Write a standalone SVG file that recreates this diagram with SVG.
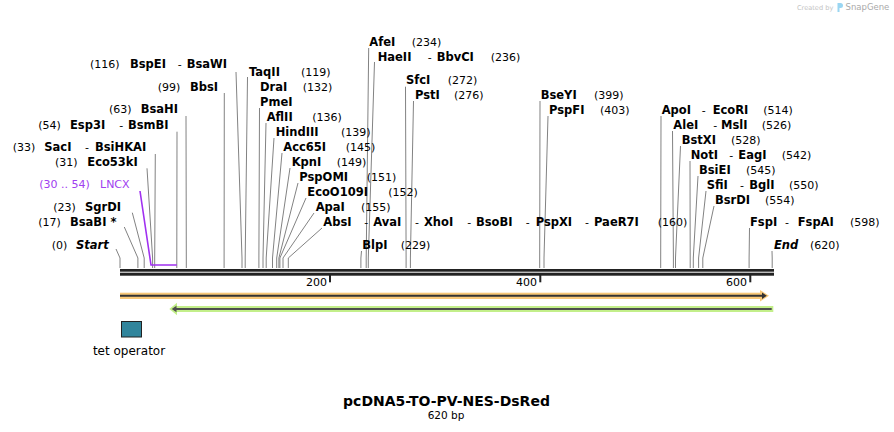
<svg xmlns="http://www.w3.org/2000/svg" width="894" height="432" viewBox="0 0 894 432">
<style>
text{font-family:"DejaVu Sans","Verdana",sans-serif;fill:#000}
.e{font-size:11.5px;font-weight:bold}
.n{font-size:11px}
.i{font-size:11.5px;font-weight:bold;font-style:italic}
.p{fill:#a040f0}
.c{fill:none;stroke:#828282;stroke-width:1}
.pl{fill:none;stroke:#a030f0;stroke-width:1.6}
.t{font-size:11px}
</style>
<rect width="894" height="432" fill="#fff"/>
<g id="watermark">
<text x="797" y="9.8" font-size="6.6" style="fill:#c4c4c4">Created by</text>
<path d="M837.5,3 h3 a2.5,2.5 0 0 1 0,5 h-1 v4 h-2 z" fill="#9ad6f2"/>
<text x="845.5" y="10.3" font-size="8.5" style="fill:#aaa">SnapGene</text>
</g>
<g id="connectors">
<polyline class="c" points="236,72 242,258 242,268"/>
<polyline class="c" points="224.3,93 224.1,258 224.1,268"/>
<polyline class="c" points="186,116 186.3,258 186.3,268"/>
<polyline class="c" points="177,131.7 176.8,258 176.8,268"/>
<polyline class="c" points="155.3,154 154.7,258 154.7,268"/>
<polyline class="c" points="147,168.3 152.6,258 152.6,268"/>
<polyline class="pl" points="140,191 151,265 176.8,265"/>
<polyline class="c" points="132.3,212.7 144.2,258 144.2,268"/>
<polyline class="c" points="124.3,227 137.9,258 137.9,268"/>
<polyline class="c" points="116,249 120,258 120,268"/>
<polyline class="c" points="368.7,48 366.2,258 366.2,268"/>
<polyline class="c" points="374.5,62 368.3,258 368.3,268"/>
<polyline class="c" points="247.5,77 245.2,258 245.2,268"/>
<polyline class="c" points="259.5,108 258.9,258 258.9,268"/>
<polyline class="c" points="266,123 263,258 263,268"/>
<polyline class="c" points="274,138 266.2,258 266.2,268"/>
<polyline class="c" points="282,153 272.5,258 272.5,268"/>
<polyline class="c" points="290,168 276.7,258 276.7,268"/>
<polyline class="c" points="298,183 278.9,258 278.9,268"/>
<polyline class="c" points="306,198 279.9,258 279.9,268"/>
<polyline class="c" points="314,213 283,258 283,268"/>
<polyline class="c" points="322,228 288.3,258 288.3,268"/>
<polyline class="c" points="361.5,251 360.9,258 360.9,268"/>
<polyline class="c" points="405.5,86.7 406.1,258 406.1,268"/>
<polyline class="c" points="413.5,101 410.4,258 410.4,268"/>
<polyline class="c" points="540,101 539.7,258 539.7,268"/>
<polyline class="c" points="548,116 544,258 544,268"/>
<polyline class="c" points="661,116 660.7,258 660.7,268"/>
<polyline class="c" points="672.5,131 673.4,258 673.4,268"/>
<polyline class="c" points="680.5,146 675.5,258 675.5,268"/>
<polyline class="c" points="690,161 690.2,258 690.2,268"/>
<polyline class="c" points="698,176 693.3,258 693.3,268"/>
<polyline class="c" points="706,191 698.6,258 698.6,268"/>
<polyline class="c" points="714,206 702.8,258 702.8,268"/>
<polyline class="c" points="749.5,228 749.1,258 749.1,268"/>
<polyline class="c" points="772,251 772.2,258 772.2,268"/>
</g>
<g id="sequence">
<rect x="120" y="269" width="654" height="2.7" fill="#222"/>
<rect x="120" y="272.7" width="654" height="3" fill="#222"/>
<rect x="329" y="275" width="2" height="7.3" fill="#222"/>
<rect x="539.3" y="275" width="2" height="7.3" fill="#222"/>
<rect x="749.3" y="275" width="2" height="7.3" fill="#222"/>
<text class="t" x="327" y="286" text-anchor="end">200</text>
<text class="t" x="537" y="286" text-anchor="end">400</text>
<text class="t" x="747" y="286" text-anchor="end">600</text>
</g>
<g id="feature-orange">
<rect x="120" y="292.7" width="641" height="6.3" fill="#f8c878"/>
<polygon points="760,290 769,295.8 760,301.6" fill="#f8c878"/>
<line x1="120" y1="295.8" x2="763" y2="295.8" stroke="#333" stroke-width="2"/>
<polygon points="762,292.6 766.8,295.8 762,299" fill="#333"/>
</g>
<g id="feature-green">
<rect x="176" y="306" width="597.3" height="6" fill="#c3ef8a"/>
<polygon points="177,302.7 169.3,309 177,315.3" fill="#c3ef8a"/>
<line x1="175" y1="309" x2="771.7" y2="309" stroke="#4d4d4d" stroke-width="2"/>
<polygon points="171.7,309 176.5,305.8 176.5,312.2" fill="#4d4d4d"/>
</g>
<g id="tet-operator">
<rect x="121.5" y="321.5" width="20" height="15.5" fill="#31859c" stroke="#222" stroke-width="1"/>
<text x="129" y="355" font-size="12" text-anchor="middle">tet operator</text>
</g>
<g id="title">
<text x="446.5" y="406" font-size="14" font-weight="bold" text-anchor="middle">pcDNA5-TO-PV-NES-DsRed</text>
<text x="446" y="418.5" font-size="10.5" text-anchor="middle">620 bp</text>
</g>
<g id="lbl-BspEI"><text class="n" x="90" y="68">(116)</text><text class="e" x="130" y="68">BspEI</text><text class="n" x="177.7" y="68">-</text><text class="e" x="186.7" y="68">BsaWI</text></g>
<g id="lbl-BbsI"><text class="n" x="157.7" y="90.5">(99)</text><text class="e" x="190" y="90.5">BbsI</text></g>
<g id="lbl-BsaHI"><text class="n" x="109" y="113">(63)</text><text class="e" x="140.7" y="113">BsaHI</text></g>
<g id="lbl-Esp3I"><text class="n" x="38.3" y="129">(54)</text><text class="e" x="70" y="129">Esp3I</text><text class="n" x="119.3" y="129">-</text><text class="e" x="128" y="129">BsmBI</text></g>
<g id="lbl-SacI"><text class="n" x="12.7" y="150.5">(33)</text><text class="e" x="44.3" y="150.5">SacI</text><text class="n" x="85" y="150.5">-</text><text class="e" x="95" y="150.5">BsiHKAI</text></g>
<g id="lbl-Eco53kI"><text class="n" x="55" y="166">(31)</text><text class="e" x="87.3" y="166">Eco53kI</text></g>
<g id="lbl-LNCX"><text class="n p" x="39.3" y="188">(30 .. 54)</text><text class="n p" x="100" y="188" font-size="12">LNCX</text></g>
<g id="lbl-SgrDI"><text class="n" x="53.3" y="211">(23)</text><text class="e" x="85" y="211">SgrDI</text></g>
<g id="lbl-BsaBI"><text class="n" x="38.3" y="225.5">(17)</text><text class="e" x="70" y="225.5">BsaBI *</text></g>
<g id="lbl-Start"><text class="n" x="51.7" y="249">(0)</text><text class="i" x="76" y="249">Start</text></g>
<g id="lbl-AfeI"><text class="e" x="369.3" y="45.5">AfeI</text><text class="n" x="411.7" y="45.5">(234)</text></g>
<g id="lbl-HaeII"><text class="e" x="377.7" y="60.5">HaeII</text><text class="n" x="427.7" y="60.5">-</text><text class="e" x="436.7" y="60.5">BbvCI</text><text class="n" x="490.7" y="60.5">(236)</text></g>
<g id="lbl-TaqII"><text class="e" x="249" y="75.5">TaqII</text><text class="n" x="301" y="75.5">(119)</text></g>
<g id="lbl-DraI"><text class="e" x="260" y="90.5">DraI</text><text class="n" x="302.7" y="90.5">(132)</text></g>
<g id="lbl-PmeI"><text class="e" x="260" y="106">PmeI</text></g>
<g id="lbl-AflII"><text class="e" x="266.7" y="121">AflII</text><text class="n" x="312.3" y="121">(136)</text></g>
<g id="lbl-HindIII"><text class="e" x="275.7" y="136">HindIII</text><text class="n" x="341" y="136">(139)</text></g>
<g id="lbl-Acc65I"><text class="e" x="283.3" y="151">Acc65I</text><text class="n" x="345.7" y="151">(145)</text></g>
<g id="lbl-KpnI"><text class="e" x="291.7" y="166">KpnI</text><text class="n" x="336.7" y="166">(149)</text></g>
<g id="lbl-PspOMI"><text class="e" x="299.3" y="181">PspOMI</text><text class="n" x="366.7" y="181">(151)</text></g>
<g id="lbl-EcoO109I"><text class="e" x="307.3" y="196">EcoO109I</text><text class="n" x="388.3" y="196">(152)</text></g>
<g id="lbl-ApaI"><text class="e" x="315.7" y="211">ApaI</text><text class="n" x="361" y="211">(155)</text></g>
<g id="lbl-AbsI"><text class="e" x="323.3" y="226">AbsI</text><text class="n" x="364.3" y="226">-</text><text class="e" x="373.3" y="226">AvaI</text><text class="n" x="415" y="226">-</text><text class="e" x="424" y="226">XhoI</text><text class="n" x="467.3" y="226">-</text><text class="e" x="476" y="226">BsoBI</text><text class="n" x="525.7" y="226">-</text><text class="e" x="535.7" y="226">PspXI</text><text class="n" x="585" y="226">-</text><text class="e" x="594" y="226">PaeR7I</text><text class="n" x="657.7" y="226">(160)</text></g>
<g id="lbl-BlpI"><text class="e" x="362.3" y="249">BlpI</text><text class="n" x="400.7" y="249">(229)</text></g>
<g id="lbl-SfcI"><text class="e" x="406" y="84">SfcI</text><text class="n" x="447.7" y="84">(272)</text></g>
<g id="lbl-PstI"><text class="e" x="415" y="99">PstI</text><text class="n" x="454" y="99">(276)</text></g>
<g id="lbl-BseYI"><text class="e" x="540.7" y="98.5">BseYI</text><text class="n" x="594" y="98.5">(399)</text></g>
<g id="lbl-PspFI"><text class="e" x="549" y="113.5">PspFI</text><text class="n" x="600" y="113.5">(403)</text></g>
<g id="lbl-ApoI"><text class="e" x="661.7" y="113.5">ApoI</text><text class="n" x="701.7" y="113.5">-</text><text class="e" x="712.7" y="113.5">EcoRI</text><text class="n" x="763.3" y="113.5">(514)</text></g>
<g id="lbl-AleI"><text class="e" x="673.3" y="128.5">AleI</text><text class="n" x="713.3" y="128.5">-</text><text class="e" x="721" y="128.5">MslI</text><text class="n" x="761.7" y="128.5">(526)</text></g>
<g id="lbl-BstXI"><text class="e" x="681.7" y="144">BstXI</text><text class="n" x="731" y="144">(528)</text></g>
<g id="lbl-NotI"><text class="e" x="690.7" y="159">NotI</text><text class="n" x="729.3" y="159">-</text><text class="e" x="738.3" y="159">EagI</text><text class="n" x="781.7" y="159">(542)</text></g>
<g id="lbl-BsiEI"><text class="e" x="699" y="174">BsiEI</text><text class="n" x="746" y="174">(545)</text></g>
<g id="lbl-SfiI"><text class="e" x="706.7" y="189">SfiI</text><text class="n" x="740" y="189">-</text><text class="e" x="749.3" y="189">BglI</text><text class="n" x="789" y="189">(550)</text></g>
<g id="lbl-BsrDI"><text class="e" x="715" y="204">BsrDI</text><text class="n" x="765" y="204">(554)</text></g>
<g id="lbl-FspI"><text class="e" x="750" y="226">FspI</text><text class="n" x="785" y="226">-</text><text class="e" x="797.7" y="226">FspAI</text><text class="n" x="850" y="226">(598)</text></g>
<g id="lbl-End"><text class="i" x="774" y="249">End</text><text class="n" x="810" y="249">(620)</text></g>
</svg>
